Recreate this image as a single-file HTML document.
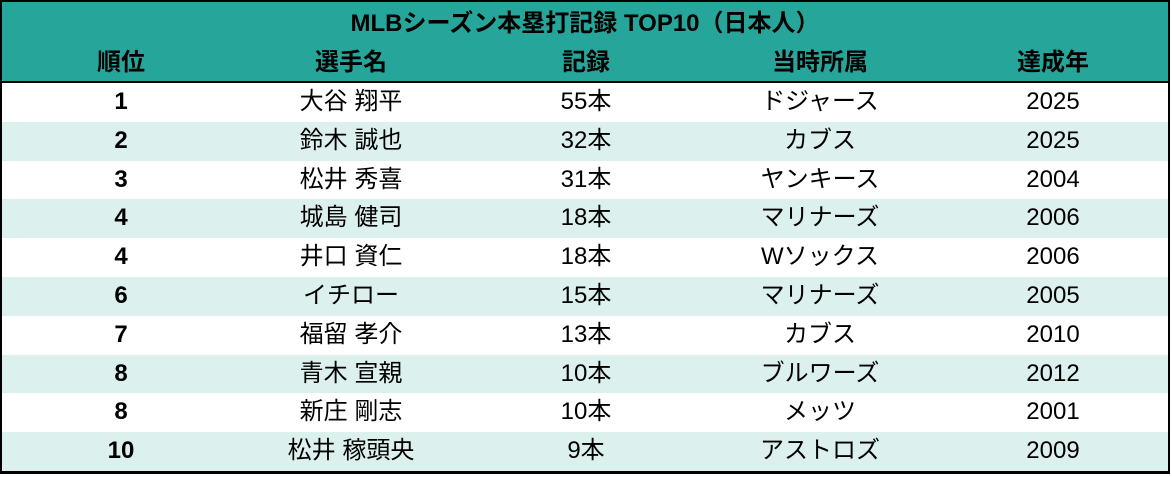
<!DOCTYPE html>
<html><head><meta charset="utf-8"><style>
body{margin:0;background:#fff;width:1172px;height:477px;overflow:hidden;font-family:"Liberation Sans","Noto Sans CJK JP",sans-serif;}
.wrap{position:absolute;left:0;top:0;width:1166px;height:469px;border:2px solid #000;border-bottom-width:3px;}
.head{position:absolute;left:0;top:0;width:1166px;height:79px;background:#26a69a;border-bottom:2px solid #000;}
.title{position:absolute;top:6px;left:0;width:1166px;text-align:center;font-weight:bold;font-size:24px;line-height:32px;color:#000;}
.row{position:absolute;left:0;width:1166px;height:38.8px;}
.c{position:absolute;top:0;text-align:center;font-size:24px;line-height:38.8px;color:#000;}
.c0{left:20px;width:198px;font-weight:bold}.c1{left:250px;width:198px}.c2{left:485px;width:198px}.c3{left:719px;width:198px}.c4{left:952px;width:198px}
.h .c{font-weight:bold}
</style></head><body><div class="wrap">
<div class="head"><div class="title">MLBシーズン本塁打記録 TOP10（日本人）</div>
<div class="row h" style="top:42px"><div class="c c0">順位</div><div class="c c1">選手名</div><div class="c c2">記録</div><div class="c c3">当時所属</div><div class="c c4">達成年</div></div></div>
<div class="row" style="top:81px"><div class="c c0">1</div><div class="c c1">大谷 翔平</div><div class="c c2">55本</div><div class="c c3">ドジャース</div><div class="c c4">2025</div></div>
<div class="row" style="top:119.8px;background:#dcf0ee"><div class="c c0">2</div><div class="c c1">鈴木 誠也</div><div class="c c2">32本</div><div class="c c3">カブス</div><div class="c c4">2025</div></div>
<div class="row" style="top:158.6px"><div class="c c0">3</div><div class="c c1">松井 秀喜</div><div class="c c2">31本</div><div class="c c3">ヤンキース</div><div class="c c4">2004</div></div>
<div class="row" style="top:197.4px;background:#dcf0ee"><div class="c c0">4</div><div class="c c1">城島 健司</div><div class="c c2">18本</div><div class="c c3">マリナーズ</div><div class="c c4">2006</div></div>
<div class="row" style="top:236.2px"><div class="c c0">4</div><div class="c c1">井口 資仁</div><div class="c c2">18本</div><div class="c c3">Wソックス</div><div class="c c4">2006</div></div>
<div class="row" style="top:275px;background:#dcf0ee"><div class="c c0">6</div><div class="c c1">イチロー</div><div class="c c2">15本</div><div class="c c3">マリナーズ</div><div class="c c4">2005</div></div>
<div class="row" style="top:313.8px"><div class="c c0">7</div><div class="c c1">福留 孝介</div><div class="c c2">13本</div><div class="c c3">カブス</div><div class="c c4">2010</div></div>
<div class="row" style="top:352.6px;background:#dcf0ee"><div class="c c0">8</div><div class="c c1">青木 宣親</div><div class="c c2">10本</div><div class="c c3">ブルワーズ</div><div class="c c4">2012</div></div>
<div class="row" style="top:391.4px"><div class="c c0">8</div><div class="c c1">新庄 剛志</div><div class="c c2">10本</div><div class="c c3">メッツ</div><div class="c c4">2001</div></div>
<div class="row" style="top:430.2px;background:#dcf0ee"><div class="c c0">10</div><div class="c c1">松井 稼頭央</div><div class="c c2">9本</div><div class="c c3">アストロズ</div><div class="c c4">2009</div></div>
</div></body></html>
